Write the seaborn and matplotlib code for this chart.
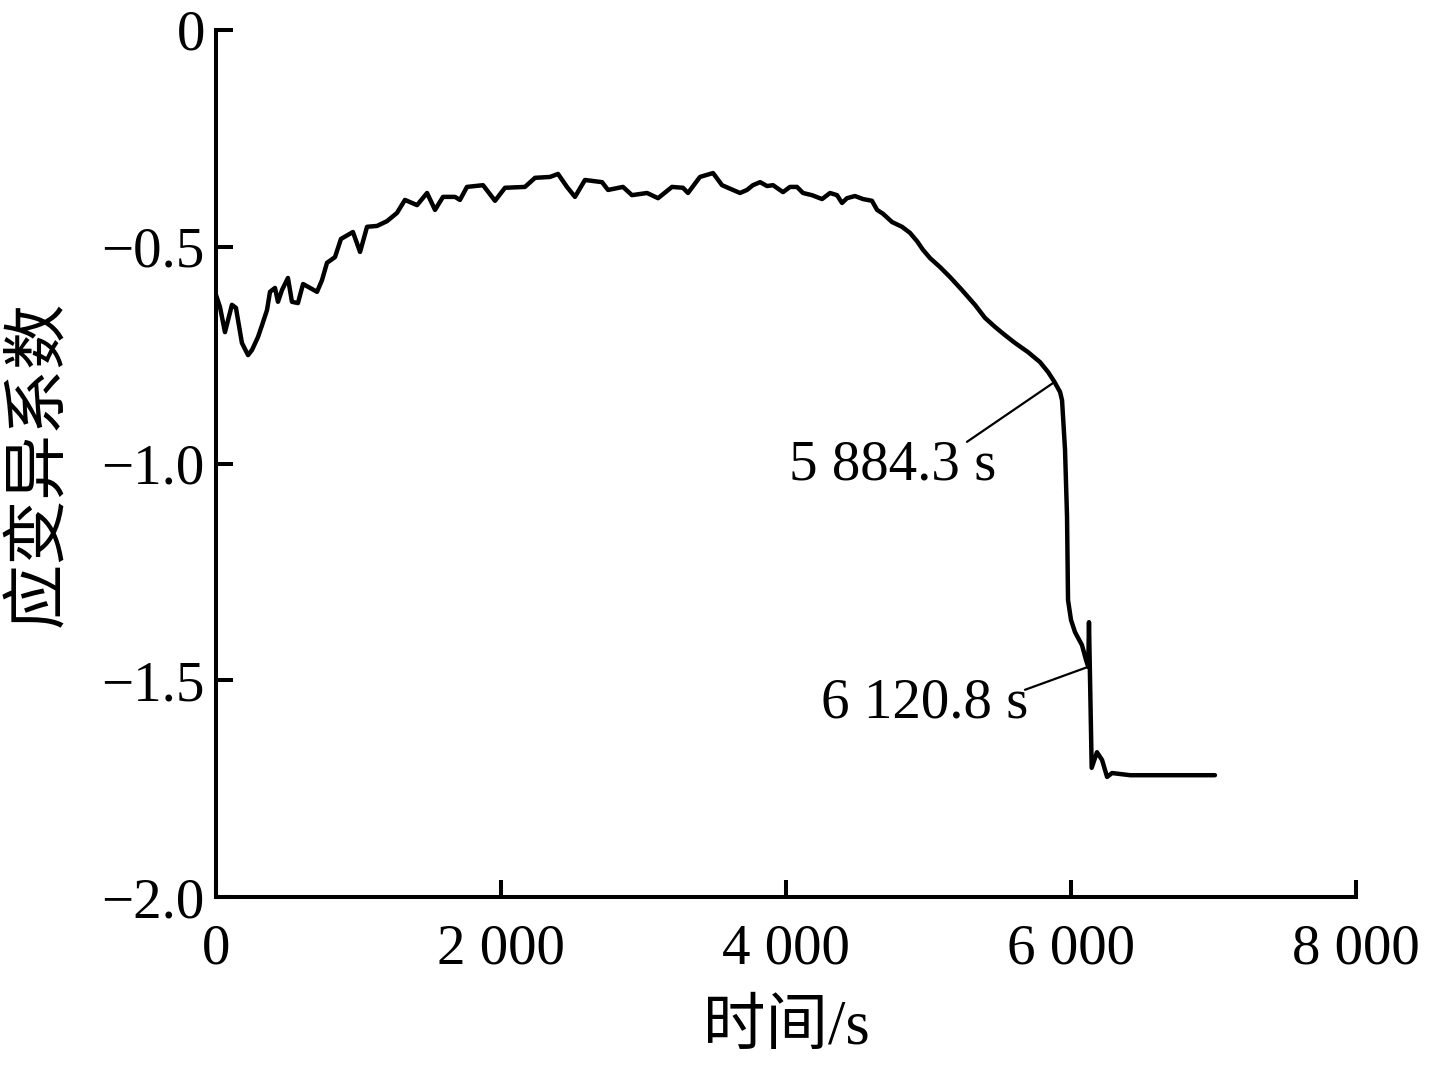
import matplotlib

matplotlib.use("Agg")

import matplotlib.pyplot as plt
import pandas as pd
import seaborn as sns

# time (s) and strain variation coefficient
time_s = [
    0, 28, 63, 112, 140, 182, 225, 253, 295, 323, 358, 379, 414, 435, 463,
    505, 533, 575, 611, 660, 709, 744, 779, 835, 877, 961, 1011, 1060, 1130,
    1200, 1270, 1326, 1411, 1481, 1537, 1593, 1677,
    1712, 1761, 1874, 1958, 2028, 2168, 2239, 2344, 2400, 2463, 2519, 2589,
    2709, 2751, 2856, 2919, 3025, 3102, 3200, 3277, 3312, 3396, 3488, 3551,
    3677, 3726, 3768, 3818, 3867, 3909, 3979, 4028, 4077, 4119, 4182, 4253,
    4309, 4358, 4393, 4428, 4484, 4540, 4603, 4639, 4681, 4744, 4814, 4870,
    4919, 4961, 5010, 5081, 5151, 5235, 5326, 5396, 5467, 5537, 5607, 5698,
    5782, 5839, 5884.3, 5923, 5937, 5958, 5972, 5979, 6000, 6028, 6077, 6105,
    6120.8, 6126, 6145, 6182, 6218, 6253, 6288, 6414, 7010,
]
coef = [
    -0.611, -0.639, -0.697, -0.634, -0.641, -0.722, -0.750, -0.738, -0.708,
    -0.681, -0.646, -0.604, -0.595, -0.627, -0.600, -0.572, -0.627, -0.630,
    -0.586, -0.595, -0.604, -0.577, -0.537, -0.524, -0.482, -0.466, -0.512,
    -0.454, -0.452, -0.441, -0.422, -0.392, -0.404, -0.376, -0.415, -0.385,
    -0.385,
    -0.392, -0.362, -0.358, -0.394, -0.364, -0.362, -0.341, -0.339, -0.332,
    -0.362, -0.385, -0.346, -0.351, -0.369, -0.362, -0.381, -0.376, -0.388,
    -0.362, -0.364, -0.376, -0.339, -0.330, -0.358, -0.376,
    -0.369, -0.358, -0.351, -0.360, -0.358, -0.374, -0.362, -0.362, -0.376,
    -0.381, -0.390, -0.376, -0.381, -0.399, -0.388, -0.383, -0.390, -0.394,
    -0.415, -0.424, -0.443, -0.454, -0.468, -0.487, -0.507, -0.526, -0.547,
    -0.570, -0.600, -0.634, -0.664, -0.685, -0.704, -0.722, -0.743, -0.766,
    -0.789, -0.812, -0.835, -0.854, -0.969, -1.123, -1.315, -1.361, -1.389,
    -1.419, -1.453, -1.469, -1.366, -1.702, -1.666, -1.684, -1.723, -1.714,
    -1.719, -1.719,
]

x_ticks = [0, 2000, 4000, 6000, 8000]
x_tick_labels = ["0", "2 000", "4 000", "6 000", "8 000"]
y_ticks = [0, -0.5, -1.0, -1.5, -2.0]
y_tick_labels = ["0", "\u22120.5", "\u22121.0", "\u22121.5", "\u22122.0"]

# marked points: (time, value, label)
marks = [(5884.3, -0.812, "5 884.3 s"), (6120.8, -1.469, "6 120.8 s")]

sns.set_theme(style="ticks")
plt.rcParams["font.family"] = ["Liberation Serif", "Noto Sans CJK SC"]
plt.rcParams["text.color"] = "black"
plt.rcParams["axes.labelcolor"] = "black"

df = pd.DataFrame({"t": time_s, "c": coef})

fig = plt.figure(figsize=(14.38, 10.67), dpi=100)
ax = fig.add_axes([0.1502, 0.1593, 0.7928, 0.8126])
sns.lineplot(data=df, x="t", y="c", ax=ax, color="black", linewidth=3.2,
             estimator=None, sort=False)

ax.set_xlim(0, 8000)
ax.set_ylim(-2.0, 0)
ax.set_xticks(x_ticks, x_tick_labels)
ax.set_yticks(y_ticks, y_tick_labels)
ax.tick_params(direction="in", length=12, width=2.9, labelsize=41,
               colors="black")
ax.tick_params(axis="x", pad=19)
ax.tick_params(axis="y", pad=8)
for side in ("top", "right"):
    ax.spines[side].set_visible(False)
for side in ("left", "bottom"):
    ax.spines[side].set_linewidth(2.9)
    ax.spines[side].set_color("black")
    ax.spines[side].set_capstyle("projecting")

ax.set_xlabel("时间/s", fontsize=45, labelpad=18)
ax.set_ylabel("应变异系数", fontsize=47, labelpad=22)

# leader lines and labels
ends = [(5270, -0.950), (5677, -1.522)]
label_pos = [(4751, -1.038), (4975, -1.585)]
for (tx, ty, lab), (ex, ey), (lx, ly) in zip(marks, ends, label_pos):
    ax.annotate("", xy=(tx, ty), xytext=(ex, ey),
                arrowprops=dict(arrowstyle="-", color="black", lw=1.6,
                                shrinkA=0, shrinkB=0))
    ax.text(lx, ly, lab, fontsize=41, ha="center", va="baseline",
            color="black")

fig.savefig("out.png", dpi=100)
plt.close(fig)
